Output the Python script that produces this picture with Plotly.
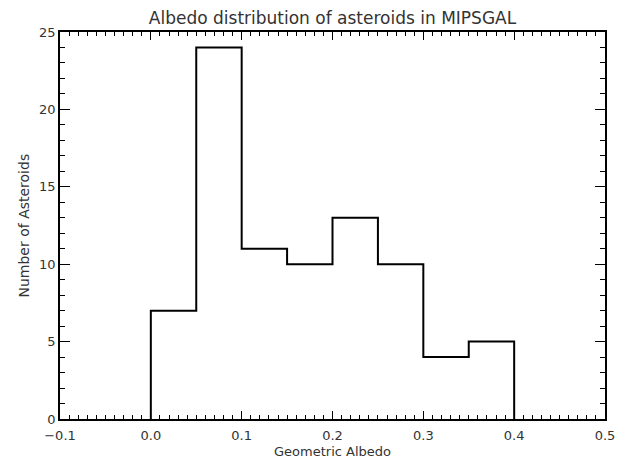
import plotly.graph_objects as go

bin_edges = [0.0, 0.05, 0.10, 0.15, 0.20, 0.25, 0.30, 0.35, 0.40]
counts = [7, 24, 11, 10, 13, 10, 4, 5]

x_tick_vals = [-0.1, 0.0, 0.1, 0.2, 0.3, 0.4, 0.5]
x_tick_text = ["\u22120.1", "0.0", "0.1", "0.2", "0.3", "0.4", "0.5"]
y_tick_vals = [0, 5, 10, 15, 20, 25]

xs = [bin_edges[0]] + bin_edges
ys = [0] + counts + [0]

# page body has an 8px default margin; compensate so the plot box lands at x 60-605, y 32-419
OFF = 8
W, H = 629 - OFF, 458 - OFF
L, R, T, B = 60 - OFF, 24, 32 - OFF, 39
plot_w = W - L - R
plot_h = H - T - B

fig = go.Figure()
fig.add_trace(go.Scatter(x=xs, y=ys, mode="lines", line=dict(shape="hv", color="black", width=2),
                         showlegend=False, hoverinfo="skip"))

font_fam = "DejaVu Sans"
txt_col = "#333333"

fig.update_layout(
    width=W, height=H,
    margin=dict(l=L, r=R, t=T, b=B, autoexpand=False),
    paper_bgcolor="white", plot_bgcolor="white",
    title=dict(text="Albedo distribution of asteroids in MIPSGAL", x=(L + plot_w / 2) / W, xanchor="center",
               y=1 - (18 - OFF) / H, yanchor="middle", font=dict(family=font_fam, size=17, color=txt_col)),
    xaxis=dict(range=[-0.1, 0.5], tickvals=x_tick_vals, ticktext=x_tick_text,
               ticks="inside", ticklen=8, tickwidth=1.3, tickcolor="black",
               minor=dict(dtick=0.01, ticks="inside", ticklen=4, tickwidth=1, tickcolor="black"),
               showline=True, linecolor="black", linewidth=1.8, mirror="ticks",
               showgrid=False, zeroline=False, automargin=False, ticklabelstandoff=3,
               tickfont=dict(family=font_fam, size=13, color=txt_col)),
    yaxis=dict(range=[0, 25], tickvals=y_tick_vals,
               ticks="inside", ticklen=10, tickwidth=1.3, tickcolor="black",
               minor=dict(dtick=1, ticks="inside", ticklen=5, tickwidth=1, tickcolor="black"),
               showline=True, linecolor="black", linewidth=1.8, mirror="ticks",
               showgrid=False, zeroline=False, automargin=False,
               tickfont=dict(family=font_fam, size=13, color=txt_col)),
    annotations=[
        dict(text="Geometric Albedo", xref="paper", yref="paper", x=0.5, y=-32 / plot_h,
             xanchor="center", yanchor="middle", showarrow=False,
             font=dict(family=font_fam, size=13, color=txt_col)),
        dict(text="Number of Asteroids", xref="paper", yref="paper", x=(23 - 60) / plot_w, y=0.5,
             xanchor="center", yanchor="middle", textangle=-90, showarrow=False,
             font=dict(family=font_fam, size=14, color=txt_col)),
    ],
)

fig.write_html("out.html")
